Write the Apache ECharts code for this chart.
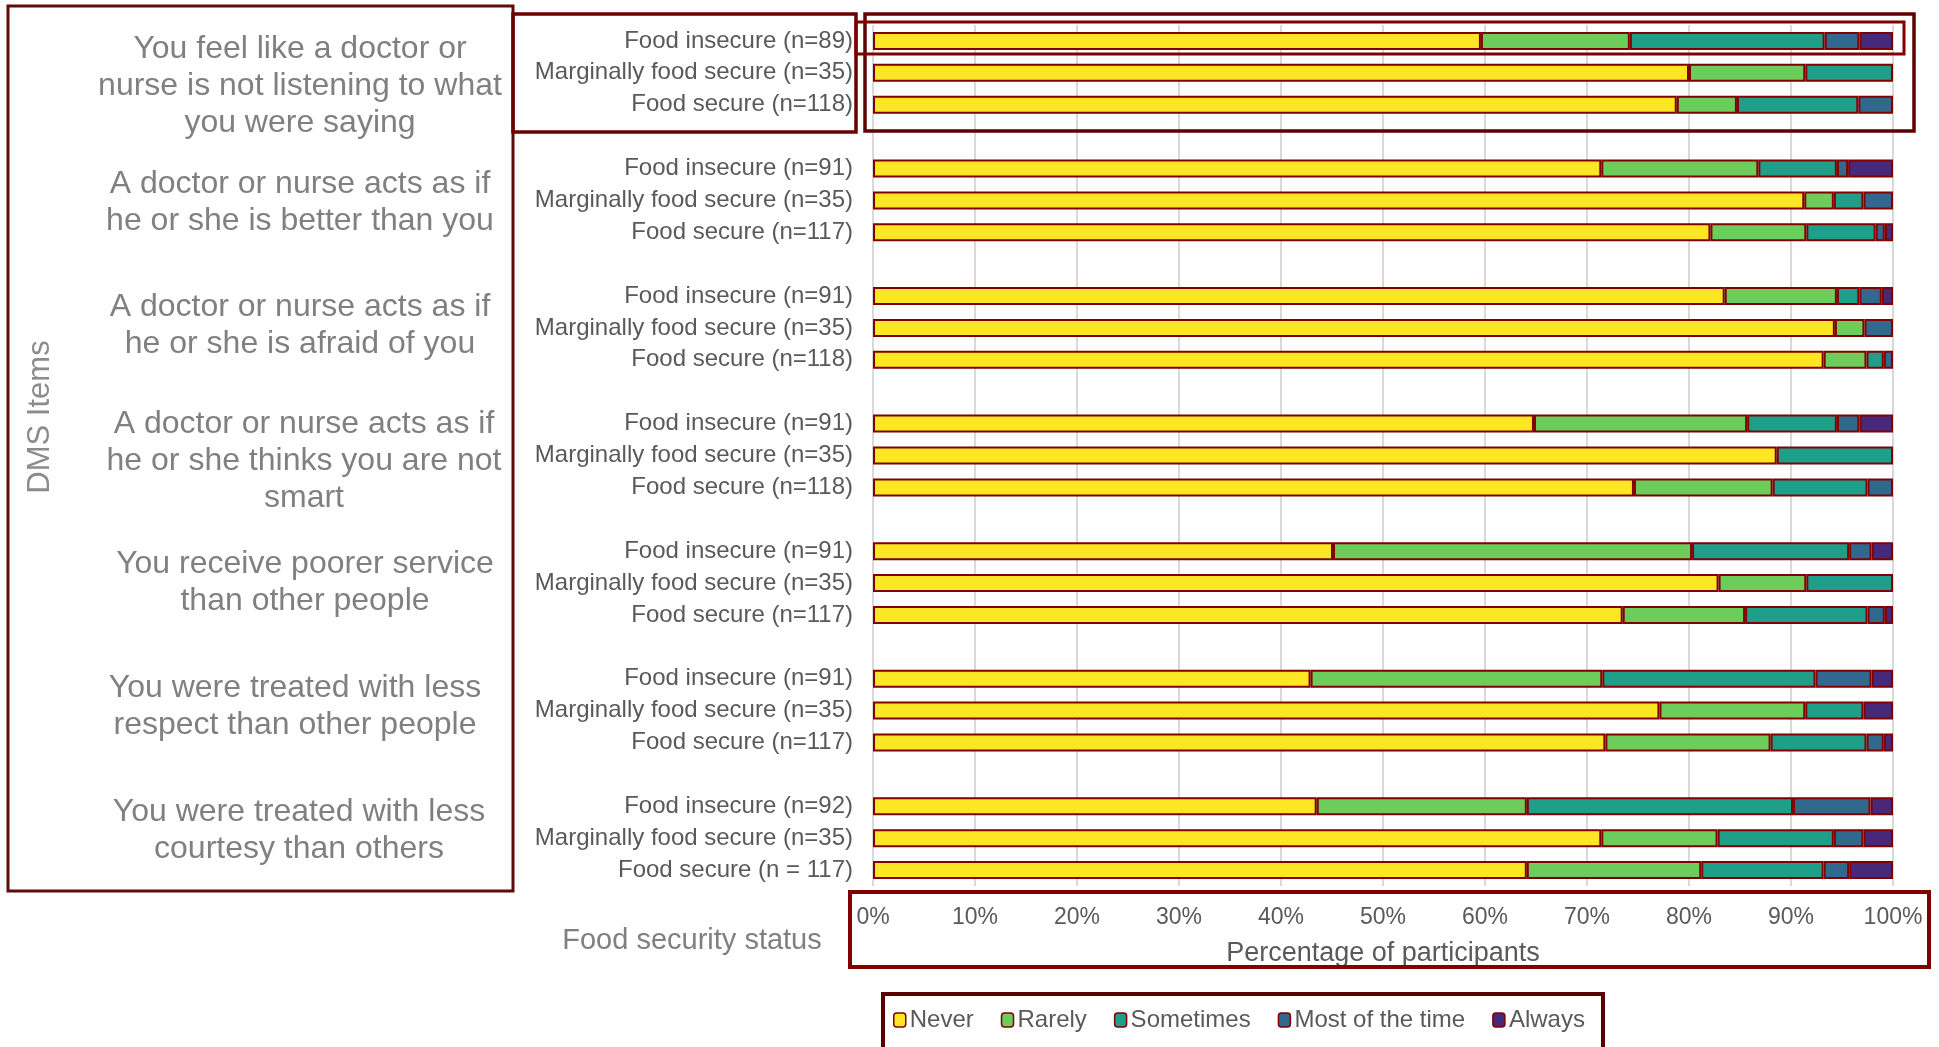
<!DOCTYPE html>
<html>
<head>
<meta charset="utf-8">
<script src="https://cdn.jsdelivr.net/npm/echarts@6/dist/echarts.min.js"></script>
<style>
  html, body { margin: 0; padding: 0; background: #fff; }
  #chart { width: 1939px; height: 1047px; }
</style>
</head>
<body>
<div id="chart"></div>
<script>
// one row per bar, top to bottom, three per DMS item
const rowLabels = [
  "Food insecure (n=89)", "Marginally food secure (n=35)", "Food secure (n=118)",
  "Food insecure (n=91)", "Marginally food secure (n=35)", "Food secure (n=117)",
  "Food insecure (n=91)", "Marginally food secure (n=35)", "Food secure (n=118)",
  "Food insecure (n=91)", "Marginally food secure (n=35)", "Food secure (n=118)",
  "Food insecure (n=91)", "Marginally food secure (n=35)", "Food secure (n=117)",
  "Food insecure (n=91)", "Marginally food secure (n=35)", "Food secure (n=117)",
  "Food insecure (n=92)", "Marginally food secure (n=35)", "Food secure (n = 117)"
]

const dmsItems = [
  "You feel like a doctor or\nnurse is not listening to what\nyou were saying",
  "A doctor or nurse acts as if\nhe or she is better than you",
  "A doctor or nurse acts as if\nhe or she is afraid of you",
  "A doctor or nurse acts as if\nhe or she thinks you are not\nsmart",
  "You receive poorer service\nthan other people",
  "You were treated with less\nrespect than other people",
  "You were treated with less\ncourtesy than others"
]

const responses = ["Never", "Rarely", "Sometimes", "Most of the time", "Always"]
const xTicks = [0, 10, 20, 30, 40, 50, 60, 70, 80, 90, 100]

// percent of participants
const never =         [59.6, 80.0, 78.8, 71.4, 91.3, 82.1, 83.5, 94.3, 93.2, 64.8, 88.6, 74.6, 45.1, 82.9, 73.5, 42.9, 77.1, 71.8, 43.5, 71.4, 64.1]
const rarely =        [14.6, 11.4,  5.9, 15.4,  2.9,  9.4, 11.0,  2.9,  4.2, 20.9,  0,   13.6, 35.2,  8.6, 12.0, 28.6, 14.3, 16.2, 20.6, 11.4, 17.1]
const sometimes =     [19.1,  8.6, 11.9,  7.7,  2.9,  6.8,  2.2,  0,    1.7,  8.8, 11.4,  9.3, 15.4,  8.5, 12.0, 20.9,  5.7,  9.4, 26.1, 11.4, 12.0]
const mostOfTheTime = [ 3.4,  0,    3.4,  1.1,  2.9,  0.9,  2.2,  2.8,  0.9,  2.2,  0,    2.5,  2.2,  0,    1.7,  5.5,  0,    1.7,  7.6,  2.9,  2.5]
const always =        [ 3.3,  0,    0,    4.4,  0,    0.8,  1.1,  0,    0,    3.3,  0,    0,    2.1,  0,    0.8,  2.1,  2.9,  0.9,  2.2,  2.9,  4.3]

const colors = ["#fde725", "#6ccd5a", "#1f9e89", "#31688e", "#482878"]
const seriesValues = [never, rarely, sometimes, mostOfTheTime, always]

// empty slot between the groups of three bars
const axisRows = []
const rowIndex = []
rowLabels.forEach((label, i) => {
  if (i > 0 && i % 3 === 0) {
    axisRows.push("")
    rowIndex.push(-1)
  }
  axisRows.push(label)
  rowIndex.push(i)
})

function slotValues(values) {
  return rowIndex.map((i) => (i < 0 || values[i] === 0 ? "-" : values[i]))
}

const itemPlaces = [[300, 86], [300, 203], [300, 326], [304, 461], [305, 583], [295, 707], [299, 831]]

function box(x, y, w, h, stroke, lineWidth) {
  return {
    type: "rect",
    z: 100,
    shape: { x: x, y: y, width: w, height: h },
    style: { fill: "none", stroke: stroke, lineWidth: lineWidth }
  }
}

function label(text, x, y, size, color, extra) {
  return Object.assign({
    type: "text",
    z: 100,
    x: x,
    y: y,
    style: {
      text: text,
      fill: color,
      fontSize: size,
      fontFamily: "Liberation Sans",
      lineHeight: 37,
      textAlign: "center",
      textVerticalAlign: "middle"
    }
  }, extra || {})
}

const graphics = [
  box(8, 6, 505, 885, "#5e0b0b", 3),
  box(513, 14, 343, 118, "#6a0000", 3.5),
  box(865, 14, 1049, 117, "#600000", 3.5),
  box(856, 22, 1048, 32, "#800000", 3),
  box(850, 892, 1079, 75, "#800000", 4),
  box(883, 994, 720, 70, "#5a0000", 4),
  label("DMS Items", 40, 417, 31, "#8c8c8c", { rotation: Math.PI / 2 }),
  label("Food security status", 692, 941, 29, "#808080")
]
dmsItems.forEach((text, i) => {
  graphics.push(label(text, itemPlaces[i][0], itemPlaces[i][1], 32, "#808080"))
})

const chart = echarts.init(document.getElementById("chart"))
chart.setOption({
  animation: false,
  textStyle: { fontFamily: "Liberation Sans" },
  grid: { left: 873, right: 46, top: 25, bottom: 161, containLabel: false },
  legend: {
    data: responses,
    left: 893,
    top: 1006,
    padding: 0,
    itemGap: 27,
    itemWidth: 12,
    itemHeight: 14,
    itemStyle: { borderColor: "#800000", borderWidth: 1.5 },
    textStyle: { fontSize: 24, color: "#595959", lineHeight: 28, padding: [0, 0, 0, -1] }
  },
  xAxis: {
    type: "value",
    min: xTicks[0],
    max: xTicks[xTicks.length - 1],
    interval: xTicks[1] - xTicks[0],
    name: "Percentage of participants",
    nameLocation: "middle",
    nameGap: 54,
    nameTextStyle: { fontSize: 27, color: "#595959", lineHeight: 27 },
    axisLine: { show: false },
    axisTick: { show: false },
    axisLabel: { formatter: "{value}%", fontSize: 23, color: "#595959", margin: 20, lineHeight: 23 },
    splitLine: { lineStyle: { color: "#d9d9d9", width: 2 } }
  },
  yAxis: {
    type: "category",
    data: axisRows,
    inverse: true,
    axisLine: { show: false },
    axisTick: { show: false },
    axisLabel: { interval: 0, fontSize: 24, color: "#595959", margin: 20 }
  },
  series: responses.map((name, k) => ({
    name: name,
    type: "bar",
    stack: "total",
    barWidth: 18,
    itemStyle: { color: colors[k], borderColor: "#800000", borderWidth: 2 },
    data: slotValues(seriesValues[k])
  })),
  graphic: graphics
})
</script>
</body>
</html>
